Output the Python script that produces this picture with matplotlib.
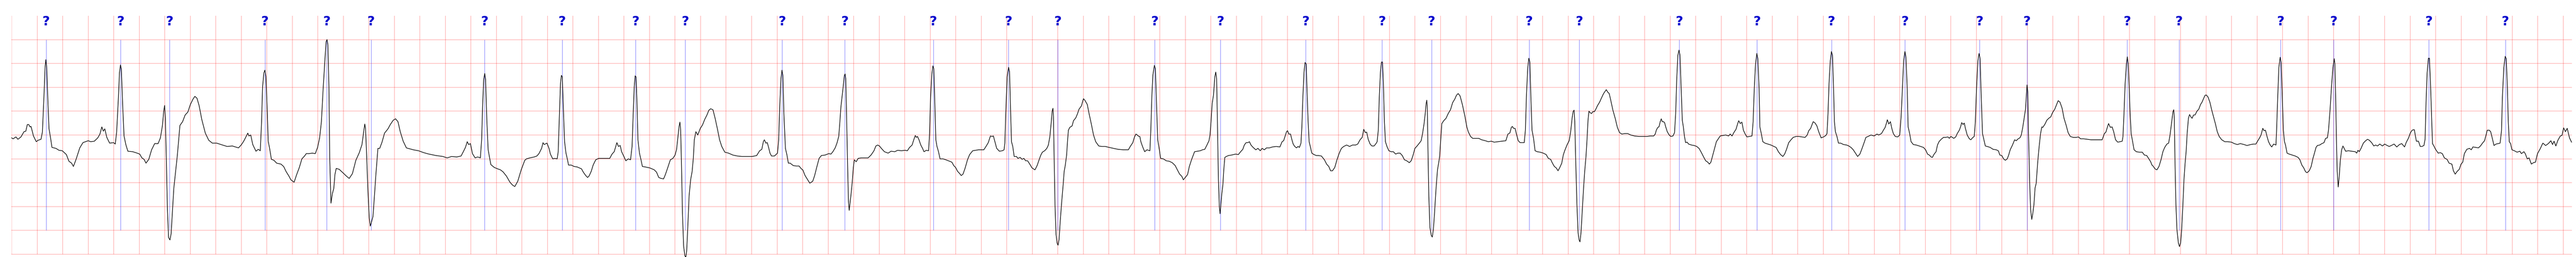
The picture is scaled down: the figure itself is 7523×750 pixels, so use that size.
import numpy as np
import matplotlib
matplotlib.use("Agg")
import matplotlib.pyplot as plt

# ECG strip, values: (time in s, amplitude in mV)
ecg = [
    (0.000, -0.06), (0.011, -0.08), (0.034, -0.04), (0.049, -0.09), (0.073, -0.04), (0.097, 0.07),
    (0.111, 0.08), (0.123, 0.22), (0.134, 0.22), (0.144, 0.17), (0.152, 0.18), (0.171, -0.02),
    (0.193, -0.14), (0.207, -0.11), (0.230, -0.09), (0.241, 0.06), (0.253, 0.79), (0.262, 1.41),
    (0.268, 1.58), (0.275, 1.41), (0.285, 0.64), (0.293, 0.13), (0.305, -0.06), (0.316, -0.26),
    (0.347, -0.28), (0.371, -0.32), (0.397, -0.33), (0.429, -0.41), (0.449, -0.55), (0.470, -0.59),
    (0.484, -0.66), (0.505, -0.51), (0.534, -0.27), (0.559, -0.16), (0.579, -0.14), (0.600, -0.12),
    (0.620, -0.14), (0.648, -0.13), (0.675, -0.06), (0.692, 0.02), (0.707, 0.17), (0.719, 0.08),
    (0.730, 0.13), (0.746, -0.05), (0.768, -0.17), (0.799, -0.16), (0.812, -0.19), (0.823, 0.06),
    (0.837, 0.79), (0.845, 1.30), (0.853, 1.47), (0.860, 1.38), (0.870, 0.64), (0.881, -0.02),
    (0.895, -0.20), (0.911, -0.34), (0.949, -0.35), (0.984, -0.38), (1.004, -0.40), (1.021, -0.48),
    (1.038, -0.51), (1.053, -0.59), (1.075, -0.51), (1.097, -0.31), (1.121, -0.18), (1.148, -0.18),
    (1.166, -0.06), (1.182, 0.20), (1.192, 0.50), (1.199, 0.62), (1.205, 0.35), (1.212, -0.46),
    (1.221, -1.56), (1.230, -2.15), (1.241, -2.20), (1.250, -2.07), (1.271, -1.12), (1.299, -0.42),
    (1.319, 0.20), (1.340, 0.28), (1.360, 0.42), (1.381, 0.48), (1.401, 0.64), (1.421, 0.75),
    (1.436, 0.81), (1.453, 0.77), (1.470, 0.61), (1.490, 0.33), (1.518, 0.04), (1.545, -0.11),
    (1.573, -0.17), (1.607, -0.17), (1.641, -0.20), (1.689, -0.24), (1.730, -0.23), (1.778, -0.27),
    (1.799, -0.21), (1.819, -0.13), (1.840, -0.02), (1.851, 0.04), (1.860, -0.02), (1.874, 0.00),
    (1.890, -0.20), (1.915, -0.34), (1.933, -0.30), (1.949, -0.33), (1.959, 0.28), (1.967, 1.01),
    (1.977, 1.30), (1.985, 1.36), (1.993, 1.23), (2.004, 0.46), (2.011, -0.13), (2.022, -0.28),
    (2.036, -0.51), (2.056, -0.53), (2.077, -0.59), (2.111, -0.61), (2.132, -0.66), (2.152, -0.77),
    (2.173, -0.86), (2.189, -0.94), (2.214, -0.99), (2.234, -0.83), (2.255, -0.68), (2.275, -0.50),
    (2.296, -0.44), (2.309, -0.39), (2.330, -0.39), (2.357, -0.38), (2.380, -0.39), (2.398, -0.26),
    (2.414, -0.06), (2.428, 0.28), (2.441, 0.94), (2.455, 1.56), (2.465, 1.96), (2.472, 2.00),
    (2.479, 1.89), (2.487, 1.01), (2.493, -0.46), (2.503, -1.43), (2.514, -1.23), (2.525, -1.12),
    (2.534, -0.83), (2.544, -0.70), (2.568, -0.72), (2.596, -0.79), (2.623, -0.86), (2.646, -0.91),
    (2.671, -0.81), (2.698, -0.53), (2.725, -0.37), (2.746, -0.20), (2.759, 0.06), (2.768, 0.23),
    (2.774, 0.13), (2.783, -0.46), (2.793, -1.19), (2.803, -1.74), (2.811, -1.91), (2.821, -1.82),
    (2.832, -1.71), (2.841, -1.38), (2.855, -0.83), (2.871, -0.28), (2.885, -0.28), (2.903, -0.15),
    (2.923, 0.04), (2.950, 0.13), (2.968, 0.22), (2.991, 0.31), (3.009, 0.34), (3.028, 0.28),
    (3.046, 0.07), (3.069, -0.13), (3.094, -0.27), (3.121, -0.29), (3.148, -0.31), (3.189, -0.33),
    (3.230, -0.37), (3.271, -0.40), (3.326, -0.43), (3.380, -0.45), (3.414, -0.48), (3.448, -0.45),
    (3.489, -0.46), (3.523, -0.44), (3.544, -0.33), (3.557, -0.26), (3.571, -0.14), (3.582, -0.20),
    (3.596, -0.18), (3.612, -0.39), (3.633, -0.48), (3.653, -0.46), (3.674, -0.48), (3.684, -0.09),
    (3.692, 0.64), (3.700, 1.16), (3.708, 1.29), (3.715, 1.16), (3.725, 0.28), (3.735, -0.31),
    (3.756, -0.62), (3.783, -0.68), (3.810, -0.71), (3.831, -0.73), (3.851, -0.77), (3.878, -0.86),
    (3.906, -0.99), (3.926, -1.05), (3.944, -1.08), (3.967, -0.97), (3.994, -0.73), (4.022, -0.53),
    (4.035, -0.50), (4.062, -0.48), (4.096, -0.46), (4.117, -0.44), (4.133, -0.39), (4.154, -0.28),
    (4.165, -0.16), (4.174, -0.20), (4.196, -0.17), (4.212, -0.28), (4.223, -0.40), (4.241, -0.50),
    (4.258, -0.49), (4.276, -0.50), (4.284, -0.35), (4.293, 0.38), (4.302, 1.08), (4.309, 1.25),
    (4.316, 1.22), (4.324, 0.59), (4.334, -0.14), (4.345, -0.38), (4.357, -0.52), (4.365, -0.63),
    (4.386, -0.63), (4.409, -0.66), (4.433, -0.67), (4.450, -0.69), (4.467, -0.71), (4.481, -0.78),
    (4.500, -0.85), (4.514, -0.89), (4.526, -0.86), (4.543, -0.76), (4.558, -0.63), (4.578, -0.52),
    (4.601, -0.49), (4.624, -0.49), (4.653, -0.49), (4.688, -0.49), (4.706, -0.40), (4.723, -0.35),
    (4.735, -0.24), (4.744, -0.16), (4.756, -0.24), (4.770, -0.22), (4.781, -0.35), (4.799, -0.45),
    (4.814, -0.54), (4.834, -0.50), (4.851, -0.52), (4.863, -0.24), (4.872, 0.45), (4.880, 1.01),
    (4.887, 1.24), (4.894, 1.22), (4.901, 0.73), (4.909, -0.10), (4.921, -0.38), (4.933, -0.52),
    (4.944, -0.66), (4.967, -0.67), (5.002, -0.69), (5.037, -0.73), (5.055, -0.78), (5.072, -0.89),
    (5.090, -0.91), (5.110, -0.92), (5.124, -0.83), (5.142, -0.69), (5.163, -0.52), (5.183, -0.49),
    (5.200, -0.42), (5.212, -0.30), (5.223, -0.03), (5.231, 0.17), (5.238, 0.27), (5.244, 0.10),
    (5.250, -0.59), (5.258, -1.63), (5.267, -2.33), (5.277, -2.53), (5.284, -2.57), (5.291, -2.43),
    (5.299, -1.98), (5.310, -1.28), (5.322, -0.94), (5.334, -0.76), (5.343, -0.49), (5.351, -0.10),
    (5.363, 0.07), (5.378, 0.00), (5.398, 0.14), (5.415, 0.21), (5.433, 0.33), (5.450, 0.42),
    (5.465, 0.52), (5.479, 0.55), (5.497, 0.53), (5.514, 0.35), (5.531, 0.14), (5.549, -0.10),
    (5.566, -0.24), (5.590, -0.36), (5.619, -0.38), (5.653, -0.42), (5.688, -0.44), (5.723, -0.45),
    (5.758, -0.45), (5.805, -0.45), (5.840, -0.43), (5.863, -0.33), (5.880, -0.30), (5.892, -0.14),
    (5.900, -0.10), (5.912, -0.17), (5.923, -0.16), (5.935, -0.28), (5.944, -0.38), (5.956, -0.44),
    (5.979, -0.44), (6.003, -0.38), (6.012, -0.10), (6.021, 0.63), (6.030, 1.18), (6.038, 1.36),
    (6.045, 1.25), (6.053, 0.45), (6.065, -0.28), (6.077, -0.42), (6.088, -0.59), (6.102, -0.59),
    (6.126, -0.64), (6.149, -0.65), (6.172, -0.65), (6.190, -0.71), (6.201, -0.73), (6.219, -0.85),
    (6.240, -0.94), (6.256, -1.01), (6.279, -0.97), (6.294, -0.85), (6.312, -0.66), (6.329, -0.49),
    (6.347, -0.43), (6.376, -0.42), (6.405, -0.39), (6.422, -0.40), (6.437, -0.35), (6.455, -0.27),
    (6.469, -0.17), (6.483, -0.03), (6.492, 0.28), (6.500, 0.59), (6.509, 0.80), (6.519, 1.04),
    (6.527, 1.25), (6.533, 1.28), (6.538, 1.18), (6.544, 0.45), (6.552, -0.59), (6.559, -1.39),
    (6.565, -1.58), (6.572, -1.42), (6.579, -1.25), (6.588, -1.01), (6.597, -0.69), (6.605, -0.52),
    (6.620, -0.56), (6.635, -0.49), (6.660, -0.48), (6.684, -0.48), (6.713, -0.48), (6.736, -0.42),
    (6.759, -0.33), (6.774, -0.23), (6.788, -0.21), (6.802, -0.23), (6.817, -0.28), (6.841, -0.35),
    (6.870, -0.38), (6.893, -0.34), (6.922, -0.35), (6.945, -0.32), (6.974, -0.33), (7.003, -0.32),
    (7.021, -0.33), (7.038, -0.26), (7.058, -0.21), (7.071, -0.10), (7.083, -0.01), (7.091, -0.05),
    (7.100, -0.03), (7.112, -0.10), (7.126, -0.21), (7.140, -0.28), (7.151, -0.35), (7.170, -0.32),
    (7.187, -0.33), (7.195, 0.03), (7.203, 0.80), (7.213, 1.28), (7.221, 1.45), (7.228, 1.39),
    (7.236, 0.69), (7.244, -0.10), (7.253, -0.24), (7.265, -0.35), (7.277, -0.50), (7.300, -0.50),
    (7.323, -0.52), (7.352, -0.55), (7.370, -0.57), (7.384, -0.64), (7.399, -0.68), (7.414, -0.76),
    (7.428, -0.80), (7.443, -0.85), (7.457, -0.82), (7.474, -0.69), (7.492, -0.52), (7.509, -0.41),
    (7.533, -0.33), (7.556, -0.32), (7.579, -0.31), (7.602, -0.31), (7.620, -0.31), (7.637, -0.24),
    (7.655, -0.16), (7.672, -0.02), (7.684, -0.03), (7.695, -0.02), (7.707, -0.14), (7.721, -0.28),
    (7.742, -0.34), (7.765, -0.33), (7.779, -0.31), (7.785, -0.17), (7.792, 0.45), (7.803, 1.22),
    (7.814, 1.42), (7.822, 1.32), (7.829, 0.59), (7.837, -0.14), (7.847, -0.24), (7.858, -0.45),
    (7.876, -0.45), (7.887, -0.49), (7.905, -0.47), (7.920, -0.51), (7.934, -0.49), (7.948, -0.54),
    (7.963, -0.54), (7.980, -0.61), (7.998, -0.69), (8.009, -0.71), (8.021, -0.73), (8.038, -0.64),
    (8.056, -0.50), (8.067, -0.42), (8.079, -0.36), (8.097, -0.33), (8.114, -0.28), (8.126, -0.21),
    (8.138, -0.03), (8.149, 0.28), (8.156, 0.50), (8.162, 0.56), (8.166, 0.38), (8.172, -0.59),
    (8.178, -1.46), (8.186, -2.08), (8.195, -2.27), (8.202, -2.31), (8.210, -2.19), (8.219, -1.81),
    (8.230, -1.42), (8.242, -1.04), (8.250, -0.76), (8.259, -0.63), (8.269, -0.42), (8.277, -0.10),
    (8.283, 0.10), (8.294, 0.16), (8.312, 0.19), (8.323, 0.30), (8.341, 0.36), (8.355, 0.45),
    (8.366, 0.54), (8.385, 0.61), (8.401, 0.76), (8.412, 0.73), (8.431, 0.64), (8.445, 0.45),
    (8.462, 0.24), (8.480, 0.00), (8.497, -0.14), (8.521, -0.23), (8.544, -0.24), (8.573, -0.24),
    (8.602, -0.26), (8.637, -0.28), (8.672, -0.30), (8.713, -0.31), (8.753, -0.31), (8.768, -0.24),
    (8.788, -0.16), (8.800, -0.05), (8.812, 0.02), (8.823, 0.00), (8.835, -0.03), (8.843, -0.03),
    (8.851, -0.14), (8.864, -0.24), (8.881, -0.35), (8.899, -0.31), (8.922, -0.33), (8.929, 0.10),
    (8.937, 0.80), (8.945, 1.25), (8.957, 1.46), (8.965, 1.39), (8.974, 0.63), (8.983, -0.10),
    (8.992, -0.24), (9.006, -0.49), (9.027, -0.50), (9.050, -0.54), (9.073, -0.55), (9.097, -0.58),
    (9.120, -0.64), (9.137, -0.73), (9.155, -0.82), (9.173, -0.87), (9.184, -0.94), (9.199, -0.89),
    (9.217, -0.83), (9.231, -0.66), (9.248, -0.52), (9.272, -0.35), (9.295, -0.34), (9.317, -0.33),
    (9.334, -0.31), (9.352, -0.30), (9.369, -0.21), (9.385, -0.12), (9.393, 0.00), (9.401, 0.28),
    (9.410, 0.66), (9.420, 0.83), (9.431, 1.22), (9.438, 1.32), (9.445, 1.18), (9.452, 0.10),
    (9.459, -0.94), (9.466, -1.49), (9.472, -1.65), (9.478, -1.46), (9.486, -1.22), (9.494, -1.04),
    (9.501, -0.73), (9.509, -0.47), (9.521, -0.45), (9.538, -0.43), (9.562, -0.42), (9.594, -0.40),
    (9.615, -0.41), (9.633, -0.35), (9.650, -0.30), (9.662, -0.21), (9.676, -0.16), (9.691, -0.16),
    (9.702, -0.14), (9.714, -0.21), (9.731, -0.26), (9.752, -0.31), (9.769, -0.28), (9.787, -0.33),
    (9.801, -0.28), (9.819, -0.31), (9.836, -0.27), (9.859, -0.27), (9.883, -0.25), (9.912, -0.24),
    (9.941, -0.25), (9.958, -0.14), (9.970, -0.12), (9.981, -0.03), (9.993, 0.07), (10.001, 0.09),
    (10.010, 0.02), (10.024, 0.02), (10.034, -0.09), (10.045, -0.19), (10.057, -0.24), (10.071, -0.27),
    (10.083, -0.24), (10.094, -0.26), (10.106, -0.17), (10.113, 0.17), (10.121, 0.80), (10.130, 1.32),
    (10.138, 1.52), (10.147, 1.49), (10.153, 0.97), (10.162, 0.28), (10.170, -0.14), (10.179, -0.24),
    (10.191, -0.38), (10.208, -0.41), (10.226, -0.43), (10.243, -0.43), (10.266, -0.44), (10.290, -0.52),
    (10.307, -0.61), (10.324, -0.66), (10.338, -0.75), (10.353, -0.75), (10.371, -0.68), (10.388, -0.52),
    (10.406, -0.38), (10.423, -0.28), (10.441, -0.24), (10.464, -0.21), (10.487, -0.24), (10.510, -0.21),
    (10.534, -0.21), (10.551, -0.19), (10.569, -0.10), (10.586, -0.05), (10.598, 0.12), (10.610, 0.05),
    (10.621, 0.06), (10.633, -0.09), (10.648, -0.19), (10.662, -0.23), (10.679, -0.23), (10.694, -0.18),
    (10.703, -0.14), (10.712, 0.10), (10.720, 0.80), (10.729, 1.32), (10.737, 1.53), (10.745, 1.53),
    (10.752, 1.08), (10.760, 0.28), (10.768, -0.14), (10.780, -0.24), (10.795, -0.33), (10.813, -0.35),
    (10.830, -0.35), (10.848, -0.40), (10.865, -0.38), (10.883, -0.38), (10.900, -0.43), (10.917, -0.52),
    (10.935, -0.54), (10.955, -0.58), (10.970, -0.54), (10.985, -0.42), (10.999, -0.28), (11.016, -0.23),
    (11.034, -0.17), (11.048, -0.12), (11.059, 0.03), (11.071, 0.24), (11.080, 0.45), (11.087, 0.66),
    (11.092, 0.73), (11.096, 0.59), (11.101, -0.24), (11.108, -1.28), (11.117, -1.94), (11.127, -2.10),
    (11.135, -2.14), (11.144, -1.98), (11.153, -1.63), (11.164, -1.15), (11.176, -0.73), (11.185, -0.59),
    (11.193, -0.45), (11.202, -0.07), (11.210, 0.24), (11.225, 0.30), (11.243, 0.35), (11.260, 0.45),
    (11.278, 0.53), (11.295, 0.68), (11.313, 0.76), (11.324, 0.83), (11.338, 0.87), (11.353, 0.82),
    (11.371, 0.64), (11.392, 0.38), (11.406, 0.17), (11.417, 0.07), (11.435, -0.03), (11.452, -0.07),
    (11.476, -0.07), (11.499, -0.07), (11.522, -0.10), (11.551, -0.12), (11.574, -0.14), (11.598, -0.13),
    (11.621, -0.15), (11.650, -0.14), (11.679, -0.13), (11.712, -0.12), (11.728, 0.02), (11.743, 0.04),
    (11.755, 0.16), (11.763, 0.18), (11.772, 0.14), (11.784, 0.14), (11.795, 0.02), (11.809, -0.12),
    (11.824, -0.16), (11.844, -0.16), (11.856, -0.16), (11.865, 0.10), (11.873, 0.80), (11.883, 1.39),
    (11.892, 1.61), (11.900, 1.53), (11.908, 0.80), (11.917, 0.10), (11.929, -0.07), (11.941, -0.33),
    (11.958, -0.35), (11.981, -0.36), (12.005, -0.38), (12.028, -0.41), (12.045, -0.49), (12.063, -0.51),
    (12.077, -0.59), (12.092, -0.66), (12.107, -0.69), (12.121, -0.75), (12.135, -0.68), (12.150, -0.59),
    (12.162, -0.42), (12.173, -0.33), (12.191, -0.21), (12.208, -0.12), (12.220, 0.07), (12.231, 0.35),
    (12.240, 0.50), (12.247, 0.52), (12.252, 0.28), (12.260, -0.59), (12.269, -1.46), (12.278, -2.05),
    (12.286, -2.20), (12.293, -2.24), (12.301, -2.05), (12.310, -1.63), (12.321, -1.11), (12.330, -0.76),
    (12.340, -0.45), (12.348, -0.10), (12.356, 0.31), (12.363, 0.50), (12.372, 0.47), (12.383, 0.45),
    (12.394, 0.49), (12.406, 0.49), (12.417, 0.54), (12.429, 0.61), (12.447, 0.69), (12.462, 0.78),
    (12.478, 0.87), (12.491, 0.92), (12.499, 0.95), (12.510, 0.90), (12.522, 0.87), (12.534, 0.73),
    (12.551, 0.52), (12.569, 0.35), (12.586, 0.16), (12.603, 0.05), (12.621, 0.02), (12.644, 0.03),
    (12.667, 0.03), (12.691, 0.00), (12.720, -0.02), (12.755, -0.03), (12.790, -0.03), (12.819, -0.03),
    (12.842, -0.02), (12.871, -0.02), (12.883, 0.02), (12.891, 0.10), (12.903, 0.16), (12.912, 0.17),
    (12.922, 0.28), (12.930, 0.34), (12.938, 0.28), (12.947, 0.28), (12.956, 0.26), (12.965, 0.17),
    (12.977, 0.07), (12.992, 0.00), (13.005, -0.03), (13.022, -0.02), (13.034, 0.05), (13.043, 0.45),
    (13.051, 1.15), (13.060, 1.67), (13.069, 1.78), (13.077, 1.67), (13.086, 0.97), (13.095, 0.31),
    (13.103, 0.17), (13.112, -0.03), (13.121, -0.16), (13.133, -0.15), (13.144, -0.19), (13.167, -0.21),
    (13.188, -0.22), (13.208, -0.24), (13.226, -0.28), (13.243, -0.36), (13.260, -0.45), (13.278, -0.54),
    (13.295, -0.57), (13.307, -0.61), (13.319, -0.57), (13.334, -0.42), (13.348, -0.28), (13.362, -0.14),
    (13.377, -0.08), (13.392, -0.02), (13.412, -0.01), (13.435, 0.00), (13.458, -0.02), (13.470, 0.02),
    (13.485, -0.02), (13.501, 0.06), (13.516, 0.12), (13.528, 0.23), (13.537, 0.30), (13.549, 0.24),
    (13.562, 0.27), (13.574, 0.10), (13.586, 0.03), (13.601, -0.04), (13.621, -0.03), (13.641, -0.02),
    (13.650, 0.28), (13.659, 0.97), (13.669, 1.49), (13.679, 1.71), (13.687, 1.60), (13.697, 0.97),
    (13.703, 0.17), (13.714, 0.03), (13.726, -0.14), (13.743, -0.17), (13.766, -0.19), (13.790, -0.21),
    (13.813, -0.24), (13.830, -0.26), (13.848, -0.35), (13.865, -0.41), (13.883, -0.45), (13.897, -0.40),
    (13.912, -0.30), (13.929, -0.16), (13.947, -0.10), (13.964, -0.05), (13.987, -0.03), (14.010, -0.03),
    (14.034, -0.04), (14.057, -0.05), (14.074, 0.00), (14.086, 0.09), (14.101, 0.14), (14.115, 0.24),
    (14.121, 0.28), (14.136, 0.25), (14.150, 0.19), (14.164, 0.07), (14.183, -0.06), (14.202, -0.04),
    (14.220, -0.01), (14.229, 0.03), (14.237, 0.45), (14.245, 1.08), (14.255, 1.56), (14.264, 1.75),
    (14.272, 1.67), (14.280, 1.04), (14.287, 0.28), (14.295, 0.07), (14.307, -0.03), (14.319, -0.17),
    (14.336, -0.17), (14.359, -0.20), (14.383, -0.21), (14.400, -0.23), (14.417, -0.26), (14.435, -0.31),
    (14.452, -0.38), (14.469, -0.45), (14.487, -0.40), (14.504, -0.28), (14.520, -0.16), (14.534, -0.05),
    (14.551, -0.03), (14.574, 0.00), (14.598, -0.02), (14.621, 0.02), (14.634, 0.00), (14.656, 0.03),
    (14.671, 0.10), (14.685, 0.16), (14.694, 0.24), (14.702, 0.32), (14.714, 0.23), (14.726, 0.28),
    (14.737, 0.14), (14.749, 0.03), (14.764, -0.03), (14.784, -0.04), (14.799, 0.00), (14.810, 0.38),
    (14.820, 0.97), (14.830, 1.56), (14.840, 1.75), (14.848, 1.63), (14.857, 1.04), (14.865, 0.17),
    (14.877, 0.03), (14.888, -0.14), (14.906, -0.20), (14.929, -0.21), (14.952, -0.23), (14.985, -0.26),
    (15.002, -0.31), (15.017, -0.40), (15.031, -0.42), (15.045, -0.46), (15.055, -0.47), (15.069, -0.40),
    (15.084, -0.35), (15.095, -0.21), (15.107, -0.14), (15.124, -0.09), (15.142, -0.05), (15.159, -0.05),
    (15.177, -0.04), (15.188, -0.07), (15.200, -0.03), (15.223, -0.07), (15.238, -0.04), (15.250, 0.03),
    (15.266, 0.10), (15.276, 0.17), (15.285, 0.26), (15.295, 0.22), (15.305, 0.25), (15.314, 0.14),
    (15.328, 0.00), (15.345, -0.08), (15.357, -0.10), (15.369, -0.06), (15.383, -0.03), (15.392, 0.28),
    (15.401, 0.97), (15.412, 1.56), (15.421, 1.71), (15.429, 1.60), (15.438, 0.80), (15.448, 0.03),
    (15.459, -0.10), (15.470, -0.23), (15.485, -0.24), (15.508, -0.26), (15.531, -0.30), (15.555, -0.31),
    (15.572, -0.33), (15.584, -0.42), (15.599, -0.43), (15.613, -0.50), (15.627, -0.53), (15.642, -0.50),
    (15.653, -0.42), (15.665, -0.31), (15.683, -0.21), (15.700, -0.10), (15.712, -0.12), (15.727, -0.08),
    (15.741, -0.06), (15.752, 0.00), (15.764, 0.17), (15.776, 0.38), (15.785, 0.54), (15.791, 0.80),
    (15.797, 1.05), (15.803, 0.90), (15.808, 0.10), (15.817, -0.94), (15.825, -1.56), (15.834, -1.77),
    (15.843, -1.63), (15.851, -1.46), (15.860, -1.11), (15.869, -1.01), (15.880, -0.59), (15.892, -0.24),
    (15.903, 0.03), (15.913, 0.17), (15.921, 0.16), (15.938, 0.23), (15.952, 0.31), (15.967, 0.35),
    (15.983, 0.38), (15.997, 0.47), (16.014, 0.54), (16.029, 0.64), (16.041, 0.72), (16.055, 0.69),
    (16.072, 0.56), (16.087, 0.35), (16.103, 0.21), (16.119, 0.05), (16.136, -0.03), (16.159, -0.05),
    (16.183, -0.05), (16.200, -0.04), (16.217, -0.08), (16.241, -0.08), (16.270, -0.09), (16.299, -0.10),
    (16.328, -0.10), (16.357, -0.10), (16.386, -0.10), (16.403, 0.03), (16.415, 0.06), (16.424, 0.14),
    (16.436, 0.24), (16.450, 0.16), (16.464, 0.17), (16.476, 0.07), (16.491, -0.10), (16.508, -0.15),
    (16.526, -0.14), (16.543, -0.13), (16.549, -0.03), (16.557, 0.45), (16.566, 1.08), (16.576, 1.49),
    (16.583, 1.64), (16.590, 1.49), (16.598, 0.97), (16.605, 0.45), (16.613, 0.03), (16.622, -0.10),
    (16.636, -0.31), (16.654, -0.35), (16.677, -0.36), (16.700, -0.36), (16.717, -0.42), (16.735, -0.43),
    (16.752, -0.50), (16.766, -0.56), (16.776, -0.63), (16.785, -0.65), (16.800, -0.71), (16.815, -0.73),
    (16.831, -0.66), (16.847, -0.52), (16.862, -0.35), (16.876, -0.26), (16.893, -0.19), (16.907, -0.17),
    (16.919, 0.02), (16.931, 0.28), (16.941, 0.49), (16.947, 0.53), (16.951, 0.38), (16.957, -0.59),
    (16.964, -1.46), (16.972, -1.98), (16.983, -2.26), (16.992, -2.34), (17.001, -2.26), (17.009, -1.98),
    (17.017, -1.56), (17.027, -0.94), (17.036, -0.59), (17.044, -0.35), (17.052, 0.03), (17.062, 0.35),
    (17.071, 0.43), (17.081, 0.38), (17.091, 0.35), (17.102, 0.42), (17.114, 0.42), (17.129, 0.50),
    (17.143, 0.54), (17.157, 0.64), (17.169, 0.69), (17.180, 0.76), (17.192, 0.83), (17.201, 0.84),
    (17.215, 0.80), (17.230, 0.69), (17.245, 0.52), (17.259, 0.38), (17.273, 0.24), (17.288, 0.07),
    (17.303, -0.03), (17.323, -0.10), (17.347, -0.14), (17.370, -0.14), (17.399, -0.15), (17.422, -0.18),
    (17.445, -0.20), (17.469, -0.18), (17.498, -0.20), (17.521, -0.22), (17.550, -0.20), (17.573, -0.19),
    (17.591, -0.19), (17.606, -0.12), (17.620, -0.06), (17.631, 0.00), (17.645, 0.14), (17.655, 0.09),
    (17.666, 0.10), (17.678, -0.03), (17.690, -0.14), (17.703, -0.21), (17.715, -0.25), (17.730, -0.19),
    (17.748, -0.21), (17.753, 0.10), (17.762, 0.80), (17.771, 1.42), (17.781, 1.63), (17.788, 1.53),
    (17.797, 0.87), (17.806, 0.10), (17.815, -0.14), (17.823, -0.21), (17.835, -0.38), (17.852, -0.40),
    (17.876, -0.42), (17.899, -0.44), (17.922, -0.47), (17.936, -0.52), (17.951, -0.63), (17.966, -0.69),
    (17.980, -0.77), (17.992, -0.79), (18.009, -0.75), (18.024, -0.66), (18.038, -0.49), (18.050, -0.38),
    (18.062, -0.26), (18.073, -0.22), (18.091, -0.21), (18.108, -0.18), (18.125, -0.16), (18.137, -0.07),
    (18.151, -0.06), (18.160, 0.10), (18.172, 0.52), (18.184, 1.04), (18.195, 1.42), (18.205, 1.60),
    (18.210, 1.49), (18.216, 0.80), (18.222, -0.07), (18.228, -0.76), (18.236, -1.09), (18.244, -0.87),
    (18.253, -0.52), (18.263, -0.31), (18.273, -0.23), (18.283, -0.28), (18.294, -0.34), (18.317, -0.33),
    (18.341, -0.34), (18.370, -0.35), (18.381, -0.38), (18.391, -0.32), (18.401, -0.35), (18.415, -0.28),
    (18.433, -0.17), (18.451, -0.12), (18.466, -0.09), (18.480, -0.11), (18.498, -0.16), (18.515, -0.23),
    (18.529, -0.21), (18.544, -0.23), (18.562, -0.19), (18.583, -0.23), (18.600, -0.19), (18.620, -0.22),
    (18.636, -0.24), (18.652, -0.22), (18.674, -0.19), (18.695, -0.25), (18.716, -0.20), (18.734, -0.18),
    (18.756, -0.25), (18.770, -0.15), (18.786, -0.07), (18.801, 0.04), (18.812, 0.09), (18.823, 0.11),
    (18.833, 0.11), (18.841, -0.02), (18.849, -0.13), (18.865, -0.13), (18.879, -0.24), (18.892, -0.24),
    (18.908, -0.22), (18.917, -0.09), (18.924, 0.64), (18.933, 1.30), (18.943, 1.61), (18.951, 1.61),
    (18.958, 1.19), (18.967, 0.46), (18.975, -0.18), (18.988, -0.24), (18.999, -0.30), (19.020, -0.38),
    (19.036, -0.37), (19.052, -0.39), (19.068, -0.48), (19.089, -0.51), (19.105, -0.59), (19.127, -0.61),
    (19.139, -0.75), (19.153, -0.82), (19.169, -0.76), (19.185, -0.72), (19.199, -0.61), (19.212, -0.57),
    (19.225, -0.39), (19.244, -0.30), (19.265, -0.28), (19.279, -0.31), (19.292, -0.25), (19.313, -0.26),
    (19.335, -0.27), (19.351, -0.23), (19.367, -0.17), (19.383, -0.12), (19.393, -0.02), (19.404, 0.10),
    (19.420, 0.10), (19.431, 0.07), (19.444, -0.07), (19.457, -0.22), (19.473, -0.19), (19.489, -0.18),
    (19.505, -0.17), (19.516, 0.09), (19.523, 0.79), (19.534, 1.41), (19.545, 1.65), (19.553, 1.60),
    (19.562, 1.01), (19.569, 0.28), (19.577, -0.14), (19.587, -0.18), (19.598, -0.31), (19.617, -0.33),
    (19.638, -0.36), (19.660, -0.34), (19.672, -0.39), (19.692, -0.35), (19.702, -0.39), (19.718, -0.50),
    (19.732, -0.48), (19.750, -0.61), (19.766, -0.58), (19.782, -0.57), (19.798, -0.39), (19.819, -0.29),
    (19.840, -0.17), (19.862, -0.22), (19.883, -0.18), (19.903, -0.12), (19.916, -0.20), (19.928, -0.13),
    (19.942, -0.23), (19.958, -0.11), (19.977, -0.02), (19.990, -0.01), (20.003, 0.15), (20.017, 0.07),
    (20.031, 0.14), (20.049, -0.06), (20.065, -0.15),
]
time_s = [p[0] for p in ecg]
ecg_mv = [p[1] for p in ecg]

# beat annotations (all unknown "?")
ann_time_s = [0.270, 0.853, 1.237, 1.985, 2.469, 2.817, 3.707, 4.315, 4.891, 5.279,
              6.040, 6.530, 7.224, 7.814, 8.199, 8.959, 9.474, 10.143, 10.741, 11.129,
              11.894, 12.288, 13.071, 13.680, 14.264, 14.840, 15.424, 15.797, 16.581,
              16.988, 17.784, 18.201, 18.946, 19.546]
ann_symbol = "?"

fig = plt.figure(figsize=(75.23, 7.5), dpi=100)
ax = fig.add_axes([34 / 7523, 8 / 750, 7476 / 7523, 696 / 750])
ax.set_xlim(0, 20.065)
ax.set_ylim(-2.5, 2.5)
ax.axis("off")

# ecg paper grid: 0.2 s / 0.5 mV
for t in np.arange(0, 20.06, 0.2):
    ax.axvline(t, color="red", alpha=0.25, lw=1.5, zorder=0)
for v in np.arange(-2.5, 2.01, 0.5):
    ax.axhline(v, color="red", alpha=0.25, lw=1.5, zorder=0, clip_on=False)

ax.vlines(ann_time_s, -2.0, 2.0, color="blue", alpha=0.5, lw=1.0, zorder=1)
for t in ann_time_s:
    ax.text(t, 2.5, ann_symbol, ha="center", va="top", fontsize=27,
            fontweight="bold", color="mediumblue", clip_on=False)

ax.plot(time_s, ecg_mv, color="black", lw=1.3, zorder=3, clip_on=False)

fig.savefig("out.png", dpi=100)
